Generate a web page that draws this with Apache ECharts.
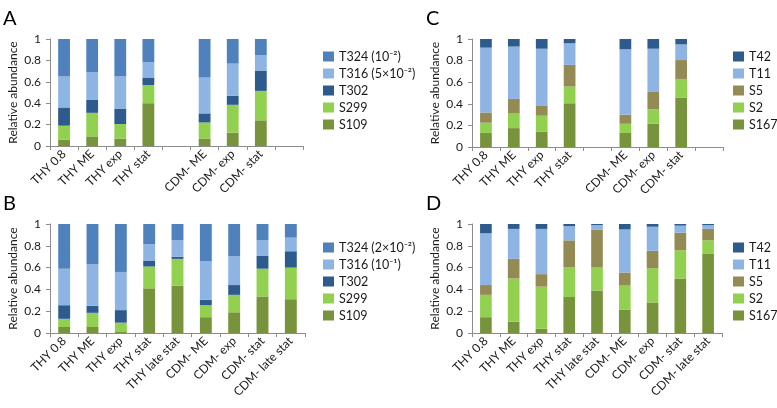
<!DOCTYPE html>
<html>
<head>
<meta charset="utf-8">
<title>Relative abundance</title>
<script src="https://cdn.jsdelivr.net/npm/echarts@6/dist/echarts.min.js"></script>
<style>
  html, body { margin: 0; padding: 0; background: #fff; }
  #main { width: 777px; height: 408px; }
</style>
</head>
<body>
<div id="main"></div>
<script>
// categories (empty slots kept as in the figure)
var catsTop = ['THY 0.8', 'THY ME', 'THY exp', 'THY stat', '', 'CDM- ME', 'CDM- exp', 'CDM- stat', ''];
var catsBottom = ['THY 0.8', 'THY ME', 'THY exp', 'THY stat', 'THY late stat', 'CDM- ME', 'CDM- exp', 'CDM- stat', 'CDM- late stat'];
var yTicks = [0, 0.2, 0.4, 0.6, 0.8, 1];

// panel A (bottom to top: S109, S299, T302, T316, T324)
var a_S109 = [0.06, 0.09, 0.07, 0.40, null, 0.07, 0.125, 0.24, null];
var a_S299 = [0.13, 0.22, 0.135, 0.17, null, 0.15, 0.26, 0.275, null];
var a_T302 = [0.17, 0.12, 0.145, 0.07, null, 0.085, 0.085, 0.19, null];
var a_T316 = [0.29, 0.26, 0.30, 0.145, null, 0.335, 0.30, 0.145, null];
var a_T324 = [0.35, 0.31, 0.35, 0.215, null, 0.36, 0.23, 0.155, null];

// panel B
var b_S109 = [0.055, 0.055, 0.015, 0.41, 0.435, 0.145, 0.19, 0.335, 0.31];
var b_S299 = [0.075, 0.13, 0.08, 0.20, 0.245, 0.11, 0.16, 0.255, 0.29];
var b_T302 = [0.125, 0.065, 0.115, 0.055, 0.02, 0.05, 0.09, 0.12, 0.15];
var b_T316 = [0.335, 0.38, 0.35, 0.15, 0.15, 0.355, 0.265, 0.14, 0.125];
var b_T324 = [0.41, 0.375, 0.44, 0.185, 0.15, 0.34, 0.295, 0.15, 0.125];

// panel C (bottom to top: S167, S2, S5, T11, T42)
var c_S167 = [0.13, 0.175, 0.14, 0.405, null, 0.13, 0.215, 0.455, null];
var c_S2 = [0.095, 0.135, 0.15, 0.155, null, 0.085, 0.135, 0.175, null];
var c_S5 = [0.095, 0.135, 0.09, 0.20, null, 0.085, 0.16, 0.175, null];
var c_T11 = [0.60, 0.485, 0.53, 0.20, null, 0.605, 0.40, 0.145, null];
var c_T42 = [0.08, 0.07, 0.09, 0.04, null, 0.095, 0.09, 0.05, null];

// panel D
var d_S167 = [0.145, 0.105, 0.04, 0.33, 0.39, 0.215, 0.28, 0.50, 0.73];
var d_S2 = [0.205, 0.395, 0.385, 0.275, 0.21, 0.22, 0.315, 0.26, 0.12];
var d_S5 = [0.09, 0.18, 0.115, 0.245, 0.35, 0.12, 0.16, 0.16, 0.105];
var d_T11 = [0.475, 0.275, 0.415, 0.13, 0.04, 0.395, 0.22, 0.065, 0.035];
var d_T42 = [0.085, 0.045, 0.045, 0.02, 0.01, 0.05, 0.025, 0.015, 0.01];

var FONT = 'Lato';
var axisGray = '#8c8c8c';
var textCol = '#1a1a1a';

var grids = [
  { left: 50, top: 39, width: 253, height: 107 },
  { left: 50, top: 224, width: 255, height: 109 },
  { left: 472, top: 39, width: 251, height: 108 },
  { left: 472, top: 224, width: 250, height: 109 }
];

function xAx(i, cats) {
  return {
    type: 'category', gridIndex: i, data: cats,
    axisLine: { lineStyle: { color: axisGray } },
    axisTick: { show: true, length: 4, lineStyle: { color: axisGray } },
    axisLabel: { rotate: 45, margin: 6, fontSize: 12, color: textCol, fontFamily: FONT, interval: 0 }
  };
}
function yAx(i) {
  return {
    type: 'value', gridIndex: i, min: 0, max: 1, interval: 0.2,
    name: 'Relative abundance', nameLocation: 'middle', nameGap: 31,
    nameTextStyle: { fontSize: 12, color: textCol, fontFamily: FONT },
    axisLine: { show: true, lineStyle: { color: axisGray } },
    axisTick: { show: true, length: 4, lineStyle: { color: axisGray } },
    splitLine: { show: false },
    axisLabel: { fontSize: 12, color: textCol, fontFamily: FONT, margin: 9,
      formatter: function (v) { return yTicks.indexOf(+v.toFixed(1)) >= 0 ? String(+v.toFixed(1)) : ''; } }
  };
}
function bar(i, name, data, color) {
  return {
    type: 'bar', name: name, xAxisIndex: i, yAxisIndex: i, stack: 'p' + i,
    data: data, barWidth: '42%', itemStyle: { color: color }
  };
}
function leg(i, left, top, names) {
  return {
    orient: 'vertical', left: left, top: top, data: names,
    itemWidth: 11, itemHeight: 10, itemGap: 4,
    textStyle: { fontSize: 12.5, color: textCol, fontFamily: FONT, lineHeight: 13 },
    icon: 'rect', selectedMode: false
  };
}

var cBlue = '#4f81bd', cLight = '#8eb4e3', cDark = '#2e5b8e', cGreen = '#92d050', cOlive = '#77933c', cBrown = '#948a54';

var option = {
  animation: false,
  grid: grids,
  xAxis: [xAx(0, catsTop), xAx(1, catsBottom), xAx(2, catsTop), xAx(3, catsBottom)],
  yAxis: [yAx(0), yAx(1), yAx(2), yAx(3)],
  legend: [
    leg(0, 318, 45, ['T324 (10⁻²)', 'T316 (5×10⁻²)', 'T302', 'S299', 'S109']),
    leg(1, 318, 236, ['T324 (2×10⁻²)', 'T316 (10⁻¹)', 'T302', 'S299', 'S109']),
    leg(2, 728, 45, ['T42', 'T11', 'S5', 'S2', 'S167']),
    leg(3, 728, 236, ['T42', 'T11', 'S5', 'S2', 'S167'])
  ],
  series: [
    bar(0, 'S109', a_S109, cOlive), bar(0, 'S299', a_S299, cGreen), bar(0, 'T302', a_T302, cDark),
    bar(0, 'T316 (5×10⁻²)', a_T316, cLight), bar(0, 'T324 (10⁻²)', a_T324, cBlue),
    bar(1, 'S109', b_S109, cOlive), bar(1, 'S299', b_S299, cGreen), bar(1, 'T302', b_T302, cDark),
    bar(1, 'T316 (10⁻¹)', b_T316, cLight), bar(1, 'T324 (2×10⁻²)', b_T324, cBlue),
    bar(2, 'S167', c_S167, cOlive), bar(2, 'S2', c_S2, cGreen), bar(2, 'S5', c_S5, cBrown),
    bar(2, 'T11', c_T11, cLight), bar(2, 'T42', c_T42, cDark),
    bar(3, 'S167', d_S167, cOlive), bar(3, 'S2', d_S2, cGreen), bar(3, 'S5', d_S5, cBrown),
    bar(3, 'T11', d_T11, cLight), bar(3, 'T42', d_T42, cDark)
  ],
  graphic: [
    { type: 'text', left: 3, top: 9, style: { text: 'A', fontSize: 20, fill: '#000', fontFamily: FONT } },
    { type: 'text', left: 3, top: 194, style: { text: 'B', fontSize: 20, fill: '#000', fontFamily: FONT } },
    { type: 'text', left: 426, top: 9, style: { text: 'C', fontSize: 20, fill: '#000', fontFamily: FONT } },
    { type: 'text', left: 426, top: 194, style: { text: 'D', fontSize: 20, fill: '#000', fontFamily: FONT } }
  ]
};

var myChart = echarts.init(document.getElementById('main'), null, { renderer: 'canvas' });
myChart.setOption(option);
</script>
</body>
</html>
